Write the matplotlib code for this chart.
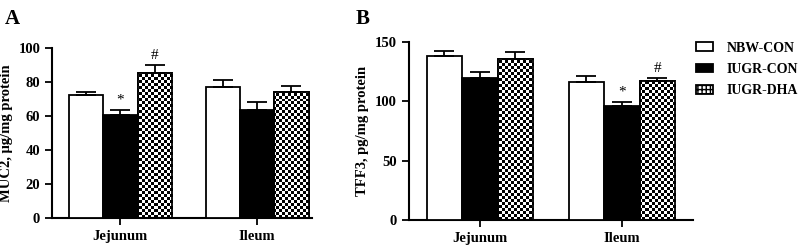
import numpy as np
import matplotlib
matplotlib.use('Agg')
import matplotlib.pyplot as plt
from matplotlib.patches import Patch

plt.rcParams['font.family'] = ['Liberation Serif', 'DejaVu Serif']
plt.rcParams['font.weight'] = 'bold'

# data
segments = ['Jejunum', 'Ileum']
groups = ['NBW-CON', 'IUGR-CON', 'IUGR-DHA']
muc2_mean = {'NBW-CON': [72.5, 77.0], 'IUGR-CON': [60.5, 63.5], 'IUGR-DHA': [85.5, 74.0]}
muc2_sem = {'NBW-CON': [1.5, 4.0], 'IUGR-CON': [3.0, 4.5], 'IUGR-DHA': [4.5, 3.5]}
muc2_marks = {'IUGR-CON': ['*', ''], 'IUGR-DHA': ['#', '']}
tff3_mean = {'NBW-CON': [138.0, 116.0], 'IUGR-CON': [120.0, 96.0], 'IUGR-DHA': [135.5, 117.0]}
tff3_sem = {'NBW-CON': [4.5, 5.0], 'IUGR-CON': [5.0, 3.0], 'IUGR-DHA': [6.0, 2.5]}
tff3_marks = {'IUGR-CON': ['', '*'], 'IUGR-DHA': ['', '#']}


def checker_fill(ax, bar, ymax, xlim, cells):
    # checkerboard pattern (about 3 px squares) clipped to the bar
    nr, nc = cells
    board = (np.indices((nr, nc)).sum(axis=0) % 2).astype(float)
    im = ax.imshow(board, cmap='gray', vmin=0, vmax=1, interpolation='nearest',
                   extent=(xlim[0], xlim[1], 0, ymax), aspect='auto', zorder=2)
    im.set_clip_path(bar)


def panel(ax, means, sems, marks, ymax, step, xlim, ylabel, cells, bar_w=1.0):
    centers = np.arange(len(segments)) * 4.0
    ax.set_xlim(*xlim)
    ax.set_ylim(0, ymax)
    for i, g in enumerate(groups):
        xs = centers + (i - 1) * bar_w
        fc = {'NBW-CON': 'white', 'IUGR-CON': 'black', 'IUGR-DHA': 'white'}[g]
        bars = ax.bar(xs, means[g], width=bar_w, color=fc, edgecolor='black',
                      linewidth=1.3, zorder=3 if g != 'IUGR-DHA' else 1)
        ax.errorbar(xs, means[g], yerr=[np.zeros(len(xs)), sems[g]], fmt='none',
                    ecolor='black', elinewidth=1.3, capsize=7, capthick=1.3, zorder=4)
        if g == 'IUGR-DHA':
            for b in bars:
                checker_fill(ax, b, ymax, xlim, cells)
                edge = plt.Rectangle(b.get_xy(), b.get_width(), b.get_height(),
                                     fill=False, edgecolor='black', linewidth=1.3, zorder=3)
                ax.add_patch(edge)
        if g in marks:
            for x, m, s, lab in zip(xs, means[g], sems[g], marks[g]):
                if lab:
                    ax.text(x, m + s + ymax * 0.02, lab, ha='center', va='bottom',
                            fontsize=11, fontweight='normal')
    ax.set_xticks(centers)
    ax.set_xticklabels(segments, fontsize=10.5)
    ax.set_yticks(np.arange(0, ymax + 1, step))
    ax.tick_params(axis='y', labelsize=10.5, width=1.3, length=5)
    ax.tick_params(axis='x', width=1.3, length=5)
    ax.set_ylabel(ylabel, fontsize=10.5, fontweight='bold')
    for s in ['top', 'right']:
        ax.spines[s].set_visible(False)
    for s in ['left', 'bottom']:
        ax.spines[s].set_linewidth(1.5)
    ax.spines['left'].set_zorder(5)


fig = plt.figure(figsize=(8, 2.45), dpi=100)
axA = fig.add_axes([0.065, 0.110, 0.325, 0.694])
axB = fig.add_axes([0.511, 0.102, 0.355, 0.727])

panel(axA, muc2_mean, muc2_sem, muc2_marks, 100, 20, (-2.0, 5.6),
      'MUC2, μg/mg protein', (57, 87))
panel(axB, tff3_mean, tff3_sem, tff3_marks, 150, 50, (-2.0, 6.0),
      'TFF3, pg/mg protein', (59, 95))

fig.text(0.006, 0.965, 'A', fontsize=15, fontweight='bold', va='top')
fig.text(0.444, 0.965, 'B', fontsize=15, fontweight='bold', va='top')

handles = [Patch(facecolor='white', edgecolor='black', linewidth=1.3),
           Patch(facecolor='black', edgecolor='black', linewidth=1.3),
           Patch(facecolor='white', edgecolor='black', linewidth=1.3, hatch='++++')]
fig.legend(handles, groups, loc='upper left', bbox_to_anchor=(0.858, 0.87),
           frameon=False, fontsize=10, handlelength=1.2, handleheight=0.6,
           labelspacing=0.6, handletextpad=1.0, borderpad=0.2)

fig.savefig('out.png', dpi=100)
